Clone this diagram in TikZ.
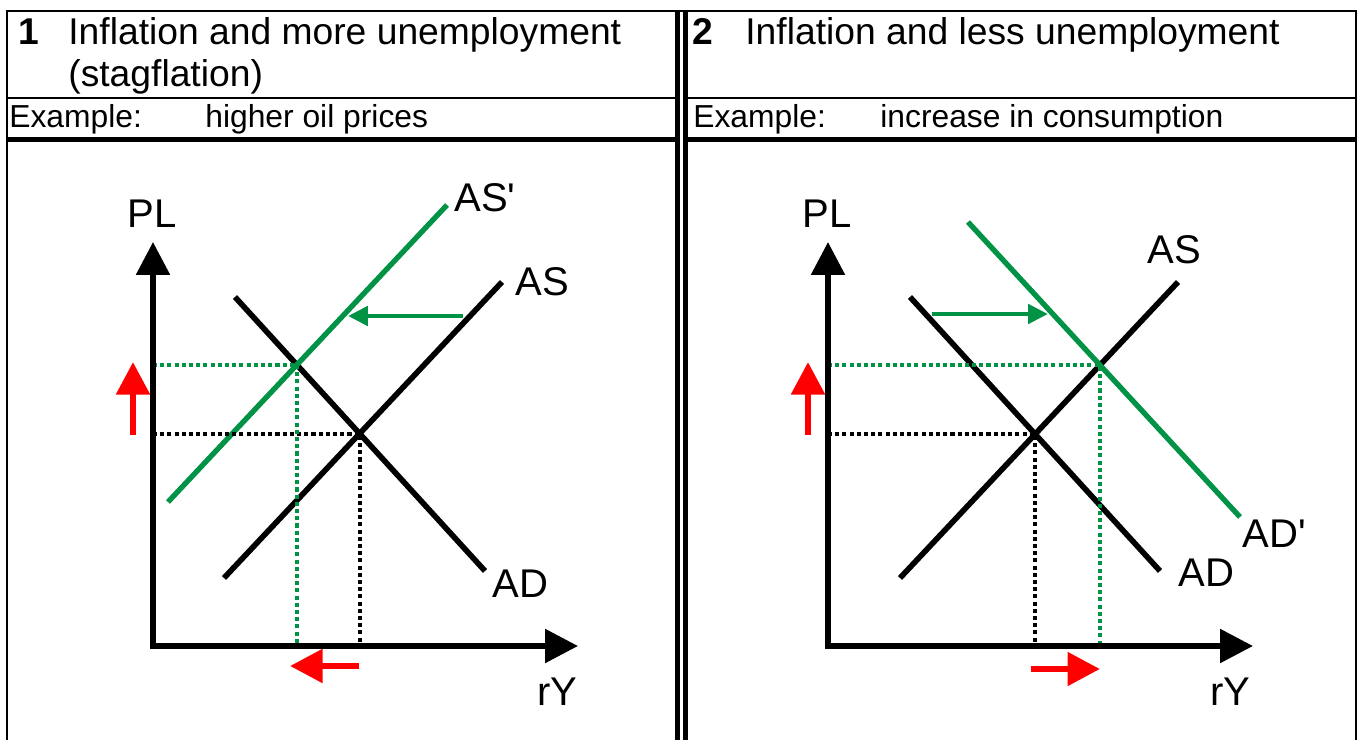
\documentclass[tikz,border=0pt]{standalone}
\usepackage{fontspec}
\setmainfont{Liberation Sans}
\usepackage{tikz}
\usetikzlibrary{arrows.meta,intersections}
\definecolor{ink}{HTML}{000000}
\definecolor{shiftgreen}{HTML}{009245}
\definecolor{moved}{HTML}{FF0000}
\tikzset{
  rule/.style={draw=ink,line width=1.3pt},
  thickrule/.style={draw=ink,line width=2.9pt},
  axisarr/.style={-{Triangle[length=18.7pt,width=18.7pt]},line width=3.2pt,draw=ink},
  curve/.style={draw=ink,line width=3.2pt},
  newcurve/.style={draw=shiftgreen,line width=3pt},
  guide/.style={draw=ink,line width=2.2pt,dash pattern=on 2.3pt off 1.8pt},
  newguide/.style={guide,draw=shiftgreen},
  shiftarr/.style={-{Triangle[length=11.3pt,width=10.8pt]},line width=2.7pt,draw=shiftgreen},
  movearr/.style={-{Triangle[length=18.5pt,width=18.5pt]},line width=3.8pt,draw=moved},
  headtext/.style={anchor=base west,inner sep=0pt,font=\fontsize{21.2}{25}\selectfont},
  headnum/.style={headtext,font=\fontsize{21.2}{25}\selectfont\bfseries},
  exampletext/.style={anchor=base west,inner sep=0pt,font=\fontsize{18.1}{21}\selectfont},
  curvelabel/.style={anchor=base west,inner sep=0pt,font=\fontsize{22.8}{26}\selectfont}
}

\begin{document}
\begin{tikzpicture}[x=0.02cm,y=-0.02cm]
  \useasboundingbox[fill=white] (0,0) rectangle (1363,740);

  % table frame
  \draw[rule] (7,740) -- (7,11) -- (1356,11) -- (1356,740);
  \draw[rule] (7,98) -- (677.5,98);
  \draw[rule] (685.5,98) -- (1356,98);
  \draw[thickrule] (7,139.5) -- (677.5,139.5);
  \draw[thickrule] (685.5,139.5) -- (1356,139.5);
  \draw[thickrule] (677.5,11) -- (677.5,740);
  \draw[thickrule] (685.5,11) -- (685.5,740);

  % headings
  \node[headnum] (num1) at (18,45) {1};
  \node[headtext] (head1) at (68,45) {Inflation and more unemployment};
  \node[headtext] (head1b) at (68,87) {(stagflation)};
  \node[exampletext] (ex1) at (9,128) {Example:};
  \node[exampletext] (cause1) at (205,128) {higher oil prices};
  \node[headnum] (num2) at (692,45) {2};
  \node[headtext] (head2) at (745,45) {Inflation and less unemployment};
  \node[exampletext] (ex2) at (693,128) {Example:};
  \node[exampletext] (cause2) at (880,128) {increase in consumption};

  % panel 1: supply shock
  \coordinate (O1) at (153,646);
  \coordinate (PLtip1) at (153,242);
  \coordinate (rYtip1) at (578,646);
  \coordinate (AS1a) at (224,578);
  \coordinate (AS1b) at (502,282);
  \coordinate (AD1a) at (235,297);
  \coordinate (AD1b) at (485,571);
  \coordinate (ASn1a) at (168,502);
  \coordinate (ASn1b) at (447,205);
  \draw[curve,name path=as1] (AS1a) -- (AS1b);
  \draw[curve,name path=ad1] (AD1a) -- (AD1b);
  \draw[newcurve,name path=asn1] (ASn1a) -- (ASn1b);
  \path[name intersections={of=as1 and ad1,by=E1}];
  \path[name intersections={of=asn1 and ad1,by=F1}];
  \draw[guide] (O1 |- E1) -- (E1) -- (E1 |- O1);
  \draw[newguide] (O1 |- F1) -- (F1) -- (F1 |- O1);
  \draw[axisarr] ([yshift=-1.6pt]O1) -- (PLtip1);
  \draw[axisarr] ([xshift=-1.6pt]O1) -- (rYtip1);
  \coordinate (sh1a) at (463,316);
  \coordinate (sh1b) at (348,316);
  \draw[shiftarr] (sh1a) -- (sh1b);
  \coordinate (pl1a) at (133,435);
  \coordinate (pl1b) at (133,362);
  \draw[movearr] (pl1a) -- (pl1b);
  \coordinate (ry1a) at (359,666);
  \coordinate (ry1b) at (290,666);
  \draw[movearr] (ry1a) -- (ry1b);
  \node[curvelabel] (PL1) at (127,227) {PL};
  \node[curvelabel] (ASn1) at (454,212) {AS\textquotesingle};
  \node[curvelabel] (AS1) at (515,295) {AS};
  \node[curvelabel] (AD1) at (492,597) {AD};
  \node[curvelabel] (rY1) at (537,705) {rY};

  % panel 2: demand shock
  \coordinate (O2) at (828,646);
  \coordinate (PLtip2) at (828,242);
  \coordinate (rYtip2) at (1253,646);
  \coordinate (AS2a) at (900,578);
  \coordinate (AS2b) at (1178,282);
  \coordinate (AD2a) at (910,297);
  \coordinate (AD2b) at (1160,571);
  \coordinate (ADn2a) at (968,222);
  \coordinate (ADn2b) at (1240,517);
  \draw[curve,name path=as2] (AS2a) -- (AS2b);
  \draw[curve,name path=ad2] (AD2a) -- (AD2b);
  \draw[newcurve,name path=adn2] (ADn2a) -- (ADn2b);
  \path[name intersections={of=as2 and ad2,by=E2}];
  \path[name intersections={of=as2 and adn2,by=F2}];
  \draw[guide] (O2 |- E2) -- (E2) -- (E2 |- O2);
  \draw[newguide] (O2 |- F2) -- (F2) -- (F2 |- O2);
  \draw[axisarr] ([yshift=-1.6pt]O2) -- (PLtip2);
  \draw[axisarr] ([xshift=-1.6pt]O2) -- (rYtip2);
  \coordinate (sh2a) at (932,314);
  \coordinate (sh2b) at (1048,314);
  \draw[shiftarr] (sh2a) -- (sh2b);
  \coordinate (pl2a) at (808,435);
  \coordinate (pl2b) at (808,362);
  \draw[movearr] (pl2a) -- (pl2b);
  \coordinate (ry2a) at (1031,669);
  \coordinate (ry2b) at (1100,669);
  \draw[movearr] (ry2a) -- (ry2b);
  \node[curvelabel] (PL2) at (802,227) {PL};
  \node[curvelabel] (AS2) at (1147,263) {AS};
  \node[curvelabel] (AD2) at (1178,586) {AD};
  \node[curvelabel] (ADn2) at (1242,547) {AD\textquotesingle};
  \node[curvelabel] (rY2) at (1210,705) {rY};
\end{tikzpicture}
\end{document}
